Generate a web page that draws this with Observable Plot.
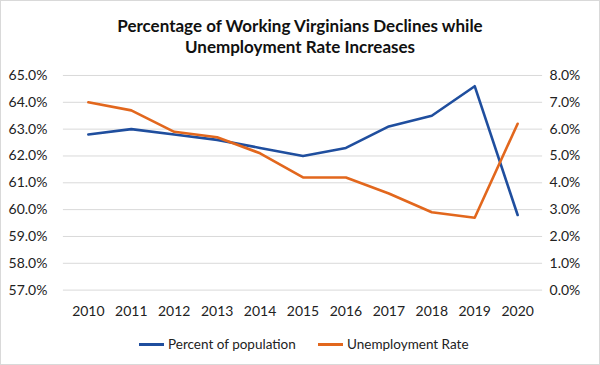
<!DOCTYPE html>
<html>
<head>
<meta charset="utf-8">
<script src="https://cdn.jsdelivr.net/npm/d3@7"></script>
<script src="https://cdn.jsdelivr.net/npm/@observablehq/plot@0.6"></script>
<style>
  html, body { margin: 0; padding: 0; background: #fff; }
  #wrap { position: relative; width: 598px; height: 363px; border: 1px solid #d9d9d9; overflow: hidden; font-family: Lato, "Open Sans", sans-serif; }
  #title { position: absolute; top: 14px; left: 0; width: 598px; text-align: center; font-weight: bold; font-size: 17px; line-height: 21px; color: #111; }
  #chart { position: absolute; top: 59px; left: -1px; }
  #legend { position: absolute; top: 334px; left: 0; width: 598px; font-size: 13.5px; color: #222; }
  .item { position: absolute; top: 0; display: flex; align-items: center; height: 18px; }
  .swatch { width: 25px; height: 3px; margin-right: 4px; }
</style>
</head>
<body>
<div id="wrap">
  <div id="title">Percentage of Working Virginians Declines while<br>Unemployment Rate Increases</div>
  <div id="chart"></div>
  <div id="legend"></div>
</div>
<script>
const years = ["2010","2011","2012","2013","2014","2015","2016","2017","2018","2019","2020"];
const percentOfPopulation = [62.8, 63.0, 62.8, 62.6, 62.3, 62.0, 62.3, 63.1, 63.5, 64.6, 59.8];
const unemploymentRate = [7.0, 6.7, 5.9, 5.7, 5.1, 4.2, 4.2, 3.6, 2.9, 2.7, 6.2];
const leftTicks = [57, 58, 59, 60, 61, 62, 63, 64, 65];
const rightTicks = [0, 1, 2, 3, 4, 5, 6, 7, 8];
const seriesNames = ["Percent of population", "Unemployment Rate"];
const colors = ["#1f4e9e", "#e2671d"];

const leftMin = 57; // right axis 0% aligns with left 57%
const popData = years.map((y, i) => ({year: y, value: percentOfPopulation[i]}));
const unempData = years.map((y, i) => ({year: y, value: unemploymentRate[i] + leftMin}));

const chart = Plot.plot({
  width: 600,
  height: 262,
  marginTop: 15,
  marginBottom: 32,
  marginLeft: 63,
  marginRight: 57,
  style: {fontFamily: "Lato, 'Open Sans', sans-serif", fontSize: "14px", color: "#222", background: "transparent"},
  x: {type: "point", domain: years, padding: 0.5},
  y: {domain: [57, 65]},
  marks: [
    Plot.gridY(leftTicks, {stroke: "#d9d9d9", strokeOpacity: 1, strokeWidth: 1}),
    Plot.axisY(leftTicks, {anchor: "left", tickSize: 0, tickPadding: 16, tickFormat: d => d.toFixed(1) + "%", label: null}),
    Plot.axisY(rightTicks.map(d => d + leftMin), {anchor: "right", tickSize: 0, tickPadding: 7, tickFormat: d => (d - leftMin).toFixed(1) + "%", label: null}),
    Plot.axisX({tickSize: 0, tickPadding: 16, label: null}),
    Plot.line(popData, {x: "year", y: "value", stroke: colors[0], strokeWidth: 2.6}),
    Plot.line(unempData, {x: "year", y: "value", stroke: colors[1], strokeWidth: 2.6})
  ]
});
document.getElementById("chart").appendChild(chart);

const legend = document.getElementById("legend");
const lefts = [138, 317];
seriesNames.forEach((name, i) => {
  const item = document.createElement("div");
  item.className = "item";
  item.style.left = lefts[i] + "px";
  const sw = document.createElement("div");
  sw.className = "swatch";
  sw.style.background = colors[i];
  item.appendChild(sw);
  const t = document.createElement("span");
  t.textContent = name;
  item.appendChild(t);
  legend.appendChild(item);
});
</script>
</body>
</html>
